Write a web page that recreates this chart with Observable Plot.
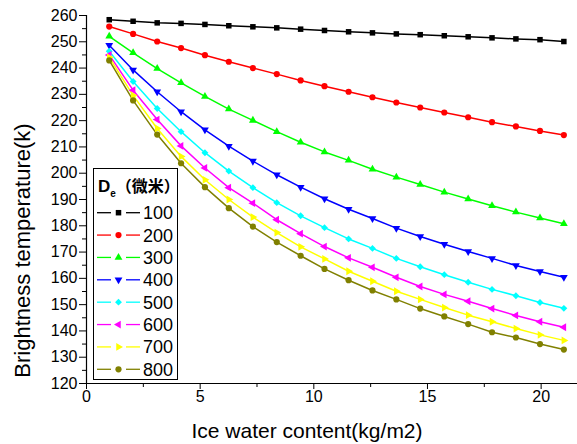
<!DOCTYPE html>
<html>
<head>
<meta charset="utf-8">
<script src="https://cdn.jsdelivr.net/npm/d3@7"></script>
<script src="https://cdn.jsdelivr.net/npm/@observablehq/plot@0.6"></script>
<style>
  html, body { margin: 0; padding: 0; background: #fff; }
  #chart { position: relative; width: 577px; height: 444px; }
  #chart svg { position: absolute; left: 0; top: 0; }
</style>
</head>
<body>
<div id="chart"></div>
<script>
// Effective diameter De (µm) of each curve
const diameters = [100, 200, 300, 400, 500, 600, 700, 800];

// Ice water content (kg/m2) sampled for every curve
const iwc = [1.00, 2.05, 3.11, 4.16, 5.21, 6.26, 7.32, 8.37, 9.42, 10.47,
             11.53, 12.58, 13.63, 14.68, 15.74, 16.79, 17.84, 18.89, 19.95, 21.00];

// Brightness temperature (K) for each diameter
const tb100 = [258.4, 257.8, 257.2, 257.0, 256.6, 256.1, 255.7, 255.3, 254.8, 254.3,
               253.8, 253.4, 253.0, 252.7, 252.3, 251.9, 251.5, 251.1, 250.8, 250.1];
const tb200 = [255.8, 253.0, 250.1, 247.6, 244.9, 242.4, 240.0, 237.7, 235.3, 233.1,
               231.0, 228.9, 226.9, 225.0, 223.1, 221.3, 219.4, 217.8, 216.1, 214.5];
const tb300 = [252.1, 245.8, 239.8, 234.4, 229.2, 224.4, 220.1, 215.8, 211.8, 208.1,
               204.9, 201.5, 198.5, 195.7, 192.8, 190.2, 187.6, 185.2, 183.0, 180.8];
const tb400 = [248.7, 239.3, 231.0, 223.4, 216.5, 210.3, 204.6, 199.4, 194.7, 190.3,
               186.3, 182.8, 179.1, 175.9, 173.0, 170.2, 167.6, 164.9, 162.6, 160.4];
const tb500 = [246.4, 234.9, 224.6, 215.8, 207.8, 200.8, 194.5, 188.8, 183.8, 179.3,
               175.0, 171.4, 167.6, 164.4, 161.4, 158.5, 155.8, 153.4, 150.8, 148.6];
const tb600 = [245.0, 231.6, 220.4, 210.4, 202.0, 194.5, 188.6, 182.3, 177.0, 172.1,
               167.8, 164.2, 160.4, 156.9, 153.9, 151.3, 148.5, 145.9, 143.5, 141.4];
const tb700 = [244.1, 229.6, 217.0, 206.4, 197.5, 190.0, 183.3, 177.4, 172.0, 167.4,
               162.7, 158.9, 155.1, 152.0, 148.9, 146.0, 143.5, 140.9, 138.5, 136.4];
const tb800 = [242.9, 227.7, 214.7, 203.8, 194.7, 186.7, 179.7, 173.8, 168.6, 163.6,
               159.3, 155.4, 152.0, 148.5, 145.5, 142.6, 139.5, 137.5, 135.0, 132.9];

// Axis ticks
const xTicks = [0, 5, 10, 15, 20];
const xMinor = [2.5, 7.5, 12.5, 17.5];
const yTicks = [120, 130, 140, 150, 160, 170, 180, 190, 200, 210, 220, 230, 240, 250, 260];
const yMinor = [125, 135, 145, 155, 165, 175, 185, 195, 205, 215, 225, 235, 245, 255];

// Styling per curve
const colors  = ["#000000", "#ff0000", "#00ff00", "#0000ff", "#00ffff", "#ff00ff", "#ffff00", "#808000"];
const symbols = ["square", "circle", "triangle", "triangle", "diamond2", "triangle", "triangle", "circle"];
const rotates = [0, 0, 0, 180, 0, -90, 90, 0];
const radii   = [3.1, 3.1, 2.9, 2.9, 3.1, 2.9, 2.9, 3.1];

const series = [tb100, tb200, tb300, tb400, tb500, tb600, tb700, tb800];
const tables = diameters.map((d, k) => iwc.map((x, i) => ({De: d, iwc: x, tb: series[k][i]})));

const font = "'Liberation Sans', Arial, sans-serif";

const marks = [
  Plot.ruleY([120], {stroke: "#000", strokeWidth: 1.2}),
  Plot.ruleX([0], {stroke: "#000", strokeWidth: 1.2}),
  Plot.axisY(yMinor, {tickSize: 4, tickFormat: () => "", label: null}),
  Plot.axisY(yTicks, {tickSize: 7, tickPadding: 2, fontSize: 16, label: null}),
  Plot.axisX(xMinor, {tickSize: 4, tickFormat: () => "", label: null}),
  Plot.axisX(xTicks, {tickSize: 6, tickPadding: 1, fontSize: 16, label: null}),
  Plot.text(["Ice water content(kg/m2)"], {frameAnchor: "bottom", textAnchor: "middle", dx: -25, dy: 48, fontSize: 21, lineAnchor: "middle"}),
  Plot.text(["Brightness temperature(k)"], {frameAnchor: "left", textAnchor: "middle", rotate: -90, dx: -64, dy: 51, fontSize: 22, lineAnchor: "middle"})
];

tables.forEach((rows, k) => {
  marks.push(Plot.line(rows, {x: "iwc", y: "tb", stroke: colors[k], strokeWidth: 1.5}));
});
tables.forEach((rows, k) => {
  marks.push(Plot.dot(rows, {x: "iwc", y: "tb", fill: colors[k], stroke: "none",
    symbol: symbols[k], rotate: rotates[k], r: radii[k]}));
});

const chart = Plot.plot({
  width: 577,
  height: 444,
  marginLeft: 86,
  marginRight: 0,
  marginTop: 15,
  marginBottom: 61,
  x: {domain: [0, 21.6]},
  y: {domain: [120, 260]},
  style: {fontFamily: font, color: "#000", background: "#fff", overflow: "visible"},
  marks
});

const host = document.getElementById("chart");
host.appendChild(chart);

// Legend box drawn over the plot area
const d3Symbols = {square: d3.symbolSquare, circle: d3.symbolCircle, triangle: d3.symbolTriangle, diamond2: d3.symbolDiamond2};
const legend = d3.create("svg")
  .attr("width", 577).attr("height", 444)
  .style("font-family", font);

legend.append("rect")
  .attr("x", 93.5).attr("y", 168.5).attr("width", 84).attr("height", 211)
  .attr("fill", "#fff").attr("stroke", "#000").attr("stroke-width", 1);

const head = legend.append("text")
  .attr("x", 98).attr("y", 192)
  .attr("font-weight", "bold").attr("font-size", 17);
head.append("tspan").text("D");
head.append("tspan").attr("font-size", 10).attr("dy", 5).text("e");
head.append("tspan").attr("dy", -5)
  .attr("font-family", "'Noto Sans CJK SC', sans-serif").attr("font-size", 16).text("（微米）");

diameters.forEach((d, k) => {
  const cy = 212.7 + 22.37 * k;
  const g = legend.append("g");
  g.append("line").attr("x1", 97).attr("x2", 111).attr("y1", cy).attr("y2", cy)
    .attr("stroke", colors[k]).attr("stroke-width", 1.3);
  g.append("line").attr("x1", 126).attr("x2", 140).attr("y1", cy).attr("y2", cy)
    .attr("stroke", colors[k]).attr("stroke-width", 1.3);
  g.append("path")
    .attr("d", d3.symbol(d3Symbols[symbols[k]], Math.PI * radii[k] * radii[k])())
    .attr("transform", `translate(118.5,${cy}) rotate(${rotates[k]})`)
    .attr("fill", colors[k]);
  g.append("text").attr("x", 143).attr("y", cy).attr("dy", "0.36em")
    .attr("font-size", 18).text(d);
});

host.appendChild(legend.node());
</script>
</body>
</html>
